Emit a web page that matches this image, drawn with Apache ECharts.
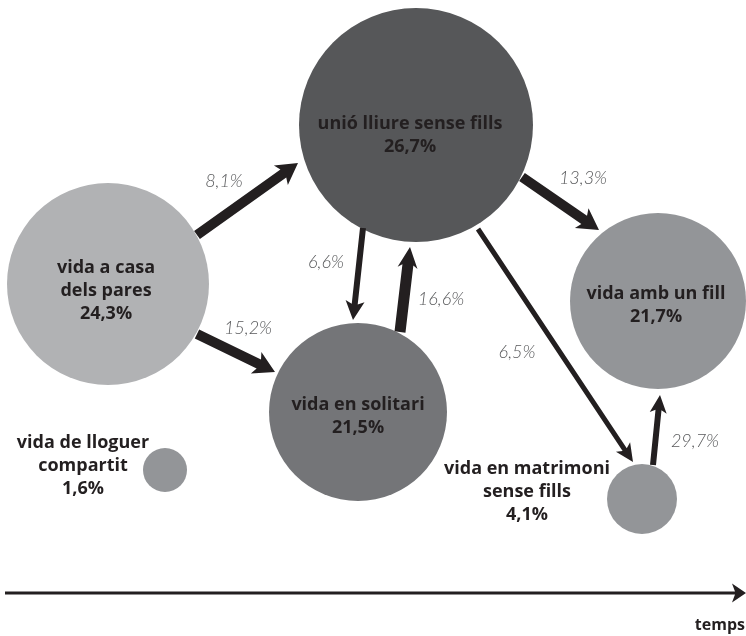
<!DOCTYPE html>
<html>
<head>
<meta charset="utf-8">
<script src="https://cdn.jsdelivr.net/npm/echarts@6/dist/echarts.min.js"></script>
<style>
  html, body { margin: 0; padding: 0; background: #fff; }
  #main { width: 746px; height: 636px; }
</style>
</head>
<body>
<div id="main"></div>
<script>
// living situations (bubbles)
const states = [
  "vida a casa\ndels pares",
  "unió lliure sense fills",
  "vida en solitari",
  "vida amb un fill",
  "vida de lloguer\ncompartit",
  "vida en matrimoni\nsense fills",
];
const stateShare = [24.3, 26.7, 21.5, 21.7, 1.6, 4.1];
const stateX = [108, 416, 358, 658, 165, 642];
const stateY = [284, 125, 412, 301, 470, 499];
const stateRadius = [101, 117, 89, 88, 22, 35];

// transitions between situations (arrows)
const flowShare = [8.1, 15.2, 6.6, 16.6, 13.3, 6.5, 29.7];
const flowStart = [[197, 235], [197, 334], [363, 228], [400, 332], [522, 177], [478, 229], [653, 465]];
const flowEnd = [[298, 163], [275, 372], [353, 320], [410, 247], [599, 230], [633, 462], [660, 395]];
const flowLabelAt = [[224, 181], [248, 328], [326, 262], [441, 299], [583, 178], [517, 352], [695, 441]];

// time axis
const timeStart = [5, 593];
const timeEnd = [746, 593];
const timeLabel = "temps";

const pct = (v) => v.toFixed(1).replace(".", ",") + "%";

const fillColors = ["#b1b2b4", "#565759", "#747578", "#939598", "#939598", "#939598"];
const shaftWidth = [10, 10, 6, 11, 10, 5, 6];
const headSize = [[21, 24], [21, 24], [19, 19], [21, 20], [21, 24], [18, 17], [18, 17]];
const ink = "#231f20";

var chartDom = document.getElementById("main");
var myChart = echarts.init(chartDom);

function arrowPoints(p1, p2, sw, hl, hw) {
  const dx = p2[0] - p1[0];
  const dy = p2[1] - p1[1];
  const len = Math.sqrt(dx * dx + dy * dy);
  const ux = dx / len, uy = dy / len;
  const nx = -uy, ny = ux;
  const notch = 3;
  const bx = p2[0] - ux * hl, by = p2[1] - uy * hl;
  return [
    [p1[0] + nx * sw / 2, p1[1] + ny * sw / 2],
    [bx + ux * notch + nx * sw / 2, by + uy * notch + ny * sw / 2],
    [bx + nx * hw / 2, by + ny * hw / 2],
    [p2[0], p2[1]],
    [bx - nx * hw / 2, by - ny * hw / 2],
    [bx + ux * notch - nx * sw / 2, by + uy * notch - ny * sw / 2],
    [p1[0] - nx * sw / 2, p1[1] - ny * sw / 2],
  ];
}

const nodeLabelPos = [
  "inside", "inside", "inside", "inside", [-60, 18], [-80, 28],
];
const nodeLabelOffset = [[-2, 7], [-6, 10], [0, 4], [-2, 4], [0, 0], [0, 0]];

const nodeData = states.map((name, i) => ({
  name: name,
  value: [stateX[i], stateY[i], stateShare[i]],
  symbolSize: stateRadius[i] * 2,
  itemStyle: { color: fillColors[i], opacity: 1 },
  label: {
    position: nodeLabelPos[i],
    offset: nodeLabelOffset[i],
  },
}));

const flowData = flowShare.map((v, i) => [
  flowStart[i][0], flowStart[i][1], flowEnd[i][0], flowEnd[i][1],
  flowLabelAt[i][0], flowLabelAt[i][1], v,
]);

const option = {
  animation: false,
  grid: { left: 0, right: 0, top: 0, bottom: 0 },
  xAxis: { type: "value", min: 0, max: 746, show: false },
  yAxis: { type: "value", min: 0, max: 636, inverse: true, show: false },
  series: [
    {
      type: "scatter",
      symbol: "circle",
      data: nodeData,
      z: 1,
      itemStyle: { opacity: 1 },
      emphasis: { disabled: true },
      label: {
        show: true,
        align: "center",
        verticalAlign: "middle",
        fontFamily: "Open Sans",
        fontWeight: "bold",
        fontSize: 18,
        lineHeight: 23,
        color: ink,
        formatter: (p) => p.name + "\n" + pct(p.value[2]),
      },
    },
    {
      type: "custom",
      z: 2,
      data: flowData,
      renderItem: (params, api) => {
        const i = params.dataIndex;
        const p1 = api.coord([api.value(0), api.value(1)]);
        const p2 = api.coord([api.value(2), api.value(3)]);
        const lp = api.coord([api.value(4), api.value(5)]);
        return {
          type: "group",
          children: [
            {
              type: "polygon",
              shape: { points: arrowPoints(p1, p2, shaftWidth[i], headSize[i][0], headSize[i][1]) },
              style: { fill: ink },
            },
            {
              type: "text",
              x: lp[0],
              y: lp[1],
              style: {
                text: pct(api.value(6)),
                align: "center",
                verticalAlign: "middle",
                fontFamily: "Lato",
                fontStyle: "italic",
                fontWeight: 300,
                fontSize: 18,
                fill: "#58595b",
              },
            },
          ],
        };
      },
    },
    {
      type: "custom",
      z: 2,
      data: [[timeStart[0], timeStart[1], timeEnd[0], timeEnd[1]]],
      renderItem: (params, api) => {
        const p1 = api.coord([api.value(0), api.value(1)]);
        const p2 = api.coord([api.value(2), api.value(3)]);
        return {
          type: "group",
          children: [
            {
              type: "polygon",
              shape: { points: arrowPoints(p1, p2, 3, 14, 19) },
              style: { fill: ink },
            },
            {
              type: "text",
              x: p2[0] - 1,
              y: p2[1] + 32,
              style: {
                text: timeLabel,
                align: "right",
                verticalAlign: "middle",
                fontFamily: "Open Sans",
                fontWeight: "bold",
                fontSize: 16,
                fill: ink,
              },
            },
          ],
        };
      },
    },
  ],
};

option && myChart.setOption(option);
</script>
</body>
</html>
